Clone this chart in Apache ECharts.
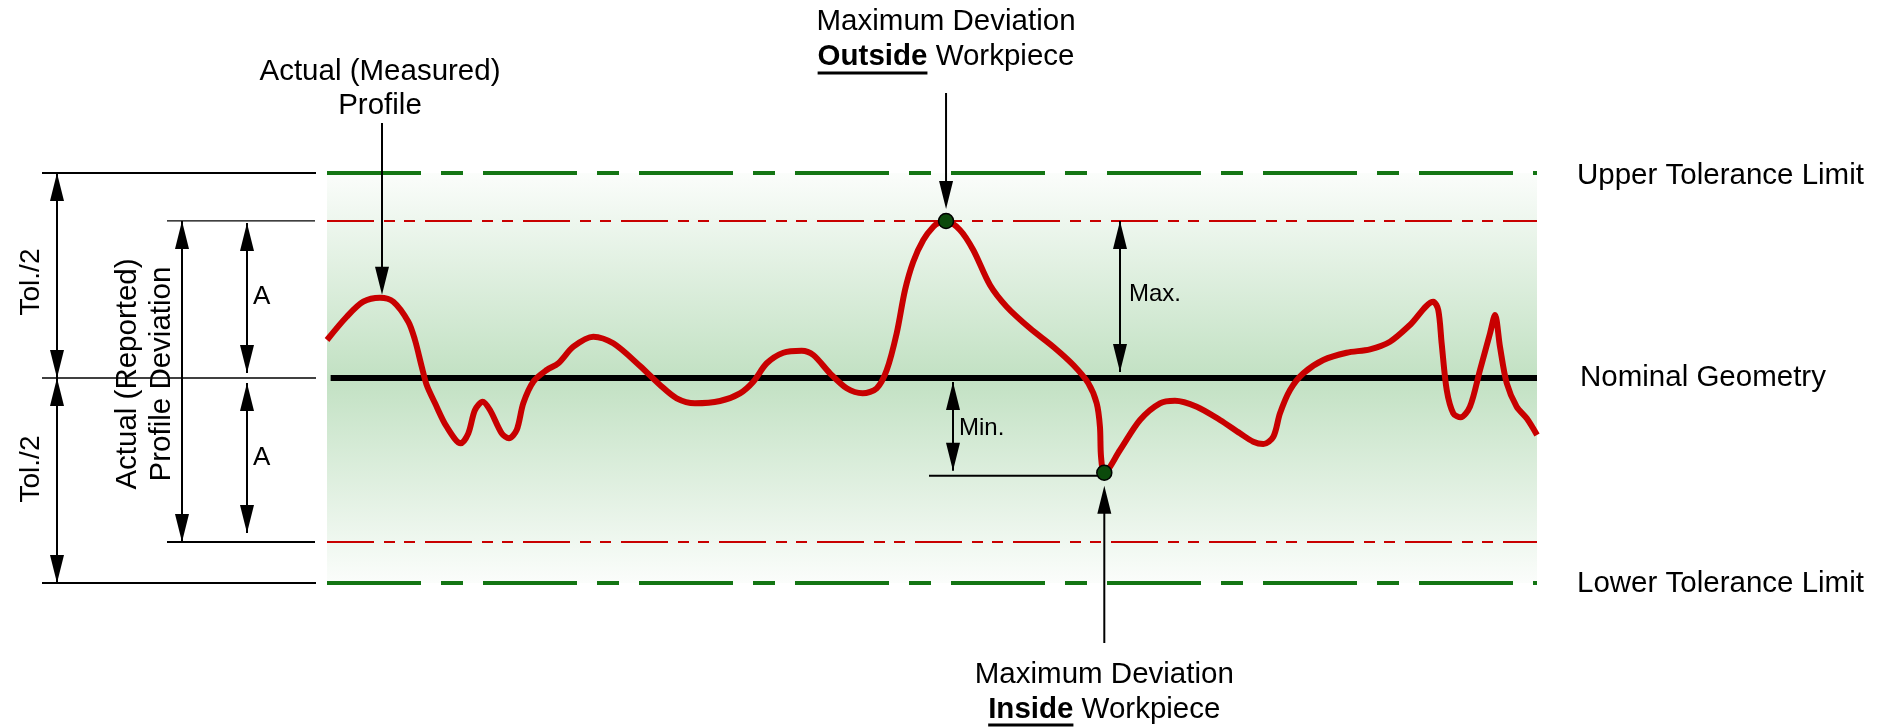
<!DOCTYPE html>
<html><head><meta charset="utf-8">
<script src="https://cdn.jsdelivr.net/npm/echarts/dist/echarts.min.js"></script>
<style>html,body{margin:0;padding:0;background:#fff}#c{width:1887px;height:727px}</style>
</head><body><div id="c"></div>
<script>
// ---- data (position along profile 0..100, deviation with Tol./2 = 50) ----
const profileX = [0, 1.63, 3.0, 4.38, 5.48, 6.72, 7.27, 7.83, 8.24, 8.93, 9.89, 11.05, 11.68, 12.23, 12.87, 13.47, 14.44, 15.04, 15.68, 16.22, 17.05, 18.16, 19.12, 20.36, 22.01, 23.66, 25.87, 27.52, 28.9, 30.41, 32.48, 34.13, 35.23, 36.34, 37.71, 39.23, 40.19, 41.57, 42.95, 44.27, 45.43, 46.26, 47.08, 47.77, 48.45, 49.28, 50.11, 50.72, 51.16, 52.31, 53.41, 54.79, 56.17, 58.1, 60.02, 61.68, 62.92, 63.61, 63.88, 63.97, 64.24, 65.54, 67.19, 68.84, 70.08, 71.88, 73.8, 75.45, 76.55, 77.38, 78.21, 78.76, 79.59, 80.69, 82.34, 84.27, 86.2, 87.85, 89.5, 91.43, 91.84, 92.12, 92.54, 93.08, 93.69, 94.46, 95.29, 96.12, 96.53, 96.94, 97.5, 98.32, 99.15, 100];
const profileY = [9.27, 14.95, 18.61, 19.59, 18.61, 13.73, 9.27, 2.76, -1.71, -6.17, -11.88, -15.93, -13.49, -7.8, -5.78, -7.8, -13.49, -14.71, -12.68, -6.17, -0.9, 1.95, 3.59, 7.63, 10.07, 8.46, 2.93, -1.71, -4.95, -6.17, -5.61, -3.73, -0.9, 3.59, 6.17, 6.66, 5.61, 1.15, -2.51, -3.73, -2.51, 1.95, 10.9, 21.46, 28.37, 33.66, 36.9, 38.12, 38.3, 36.1, 31.22, 22.68, 17.39, 12.12, 7.63, 3.17, -1.29, -6.17, -11.88, -19.2, -23.1, -17.56, -10.24, -6.17, -5.54, -7.0, -10.24, -13.49, -15.54, -16.1, -14.32, -8.61, -2.93, 1.15, 4.39, 6.17, 7.0, 8.85, 12.93, 18.61, 16.59, 8.46, -2.93, -8.61, -9.59, -7.0, 1.95, 10.9, 15.37, 7.63, -1.29, -7.0, -9.83, -13.9];
const toleranceLimits = [50, -50];      // upper, lower tolerance limit
const reportedLimits = [38.3, -40];     // actual (reported) profile deviation band
const nominalValue = [0];
const extremeX = [51.16, 64.24];        // max deviation outside / inside
const extremeY = [38.3, -23.1];
const rightLabels = ['Upper Tolerance Limit', 'Nominal Geometry', 'Lower Tolerance Limit'];

const FAM = '"Liberation Sans", Arial, sans-serif';
const FS = 29.5;
const GREEN = '#137513', RED = '#c80000';

const chart = echarts.init(document.getElementById('c'), null, {renderer: 'canvas'});

function hLine(name, y, color, width, dash, z, x0) {
  return {type: 'line', name: name, data: [[x0 || 0, y], [100, y]], symbol: 'none', silent: true, clip: false,
    z: z, lineStyle: {color: color, width: width, type: dash || 'solid', cap: 'butt'}, animation: false};
}

const profileData = profileX.map((x, i) => [x, profileY[i]]);

chart.setOption({
  animation: false,
  grid: {left: 327, top: 50, width: 1210, height: 656},
  xAxis: {type: 'value', min: 0, max: 100, show: false},
  yAxis: {type: 'value', min: -80, max: 80, show: false},
  series: [
    {type: 'line', name: 'band', data: [[0, 0], [100, 0]], symbol: 'none', silent: true, z: 0,
      lineStyle: {opacity: 0},
      markArea: {silent: true, itemStyle: {opacity: 1, color: new echarts.graphic.LinearGradient(0, 0, 0, 1, [
        {offset: 0, color: '#fbfdfb'}, {offset: 0.5, color: '#c2e1c3'}, {offset: 1, color: '#fbfdfb'}])},
        data: [[{coord: [0, toleranceLimits[0]]}, {coord: [100, toleranceLimits[1]]}]]}},
    hLine('UTL', toleranceLimits[0], GREEN, 4, [94, 20, 22, 20], 2),
    hLine('LTL', toleranceLimits[1], GREEN, 4, [94, 20, 22, 20], 2),
    hLine('RU', reportedLimits[0], RED, 2, [47, 10, 11, 9, 11, 10], 2),
    hLine('RL', reportedLimits[1], RED, 2, [47, 10, 11, 9, 11, 10], 2),
    hLine('Nominal', nominalValue[0], '#000', 6, 'solid', 3, 0.3),
    {type: 'line', name: 'profile', data: profileData, symbol: 'none', smooth: 0.3, clip: false, z: 4,
      lineStyle: {color: RED, width: 6}},
    {type: 'scatter', name: 'extremes', data: extremeX.map((x, i) => [x, extremeY[i]]), symbolSize: 15, z: 6,
      itemStyle: {color: '#0b4a0b', borderColor: '#000', borderWidth: 1.5, opacity: 1}}
  ]
});

const px = v => chart.convertToPixel({xAxisIndex: 0}, v);
const py = v => chart.convertToPixel({yAxisIndex: 0}, v);

const mctx = document.createElement('canvas').getContext('2d');
function tw(t, bold, size) { mctx.font = (bold ? 'bold ' : '') + (size || FS) + 'px ' + FAM; return mctx.measureText(t).width; }

function seg(x1, y1, x2, y2, w) {
  return {type: 'line', silent: true, z: 10, shape: {x1: x1, y1: y1, x2: x2, y2: y2}, style: {stroke: '#000', lineWidth: w || 2}};
}
function head(x, y, dir) { // dir 1: pointing down, -1: pointing up
  return {type: 'polygon', silent: true, z: 11, shape: {points: [[x, y], [x - 7, y - dir * 28], [x + 7, y - dir * 28]]}, style: {fill: '#000'}};
}
function dbl(x, y1, y2) { return [seg(x, y1, x, y2), head(x, y1, -1), head(x, y2, 1)]; }
function txt(t, x, y, opt) {
  opt = opt || {};
  return {type: 'text', silent: true, z: 12, x: x, y: y, rotation: opt.rot || 0,
    style: {text: t, fontSize: opt.size || FS, fontFamily: FAM, fill: '#000', align: opt.align || 'center',
      verticalAlign: 'middle', lineHeight: opt.lh || 34,
      rich: {b: {fontWeight: 'bold', fontSize: opt.size || FS, fontFamily: FAM, fill: '#000'},
             n: {fontSize: opt.size || FS, fontFamily: FAM, fill: '#000'}}}};
}

const yU = py(toleranceLimits[0]), yL = py(toleranceLimits[1]), yN = py(nominalValue[0]);
const yRU = py(reportedLimits[0]), yRL = py(reportedLimits[1]);
const g = [];
// left dimensioning
g.push(seg(42, yU, 316, yU, 2), seg(42, yN, 316, yN, 1.3), seg(42, yL, 316, yL, 2));
g.push(seg(167, yRU, 315, yRU, 1.3), seg(167, yRL, 315, yRL, 2));
g.push(...dbl(57, yU, yN), ...dbl(57, yN, yL), ...dbl(182, yRU, yRL));
g.push(...dbl(247, yRU + 2, yN - 5), ...dbl(247, yN + 5, yRL - 9));
g.push(txt('Tol./2', 31, 282, {rot: Math.PI / 2, size: 28}), txt('Tol./2', 31, 469, {rot: Math.PI / 2, size: 28}));
g.push(txt('Actual (Reported)\nProfile Deviation', 145, 374, {rot: Math.PI / 2, lh: 34}));
g.push(txt('A', 253, 297, {align: 'left', size: 26}), txt('A', 253, 458, {align: 'left', size: 26}));

// actual measured profile
const pkX = px(profileX[3]) + 2, pkY = py(profileY[3]);
g.push(txt('Actual (Measured)\nProfile', 380, 89, {lh: 34}));
g.push(seg(pkX, 123, pkX, pkY - 10), head(pkX, pkY - 3, 1));

// max deviation outside
const oX = px(extremeX[0]), oY = py(extremeY[0]);
g.push(txt('Maximum Deviation', oX, 22));
g.push(txt('{b|Outside}{n| Workpiece}', oX, 57));
let w1 = tw('Outside', true), wAll = w1 + tw(' Workpiece', false);
g.push(seg(oX - wAll / 2, 73, oX - wAll / 2 + w1, 73, 3));
g.push(seg(oX, 93, oX, oY - 20), head(oX, oY - 12, 1));

// max deviation inside
const iX = px(extremeX[1]), iY = py(extremeY[1]);
g.push(txt('Maximum Deviation', iX, 675));
g.push(txt('{b|Inside}{n| Workpiece}', iX, 710));
w1 = tw('Inside', true); wAll = w1 + tw(' Workpiece', false);
g.push(seg(iX - wAll / 2, 725, iX - wAll / 2 + w1, 725, 3));
g.push(seg(iX, 643, iX, iY + 20), head(iX, iY + 13, -1));

// Max. / Min.
g.push(...dbl(1120, yRU, yN - 6), txt('Max.', 1129, 294, {align: 'left', size: 24}));
g.push(...dbl(953, yN + 4, iY - 2), txt('Min.', 959, 428, {align: 'left', size: 24}));
g.push(seg(929, iY + 3, iX - 7, iY + 3, 2));

// right labels
g.push(txt(rightLabels[0], 1577, yU + 3, {align: 'left'}));
g.push(txt(rightLabels[1], 1580, yN, {align: 'left'}));
g.push(txt(rightLabels[2], 1577, yL + 1, {align: 'left'}));

chart.setOption({graphic: g});
</script></body></html>
